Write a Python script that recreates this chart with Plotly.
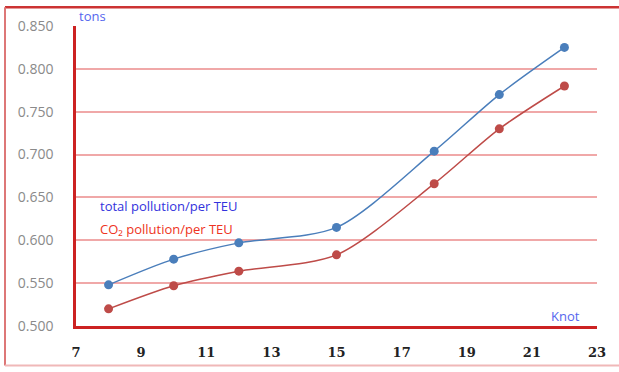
import plotly.graph_objects as go

knots = [8, 10, 12, 15, 18, 20, 22]
total_pollution = [0.548, 0.578, 0.597, 0.615, 0.704, 0.770, 0.825]
co2_pollution = [0.520, 0.547, 0.564, 0.583, 0.666, 0.730, 0.780]
y_ticks = [0.50, 0.55, 0.60, 0.65, 0.70, 0.75, 0.80, 0.85]
y_tick_labels = ["0.500", "0.550", "0.600", "0.650", "0.700", "0.750", "0.800", "0.850"]
x_ticks = [7, 9, 11, 13, 15, 17, 19, 21, 23]

W, H = 619, 372
L, R, T, B = 76, 22, 26, 42

fig = go.Figure()
fig.add_trace(go.Scatter(x=knots, y=total_pollution, mode="lines+markers",
                         line=dict(color="#4a7ebb", width=1.5, shape="spline", smoothing=0.8),
                         marker=dict(color="#4a7ebb", size=9), name="total"))
fig.add_trace(go.Scatter(x=knots, y=co2_pollution, mode="lines+markers",
                         line=dict(color="#be4b48", width=1.5, shape="spline", smoothing=0.8),
                         marker=dict(color="#be4b48", size=9), name="co2"))

def px_x(p):
    return (p - L) / (W - L - R)

def px_y(p):
    return (H - B - p) / (H - T - B)

# outer frame
fig.add_shape(type="line", xref="paper", yref="paper", x0=px_x(5), x1=px_x(619), y0=px_y(7), y1=px_y(7),
              line=dict(color="#cc3333", width=2.5))
fig.add_shape(type="line", xref="paper", yref="paper", x0=px_x(5), x1=px_x(5), y0=px_y(7), y1=px_y(370),
              line=dict(color="#dd7777", width=2))
fig.add_shape(type="line", xref="paper", yref="paper", x0=px_x(5), x1=px_x(619), y0=px_y(370), y1=px_y(370),
              line=dict(color="#f0b8b8", width=2))

fig.add_annotation(text="tons", xref="paper", yref="paper", x=px_x(77), y=px_y(16),
                   xanchor="left", yanchor="middle", showarrow=False,
                   font=dict(family="Open Sans", size=13, color="#5566ee"))
fig.add_annotation(text="Knot", xref="paper", yref="paper", x=px_x(582), y=px_y(320),
                   xanchor="right", yanchor="middle", showarrow=False,
                   font=dict(family="Open Sans", size=13, color="#5566ee"))
fig.add_annotation(text="total pollution/per TEU", xref="paper", yref="paper", x=px_x(98), y=px_y(208),
                   xanchor="left", yanchor="middle", showarrow=False,
                   font=dict(family="Open Sans", size=13, color="#3333dd"))
fig.add_annotation(text="CO₂ pollution/per TEU", xref="paper", yref="paper", x=px_x(98), y=px_y(232),
                   xanchor="left", yanchor="middle", showarrow=False,
                   font=dict(family="Open Sans", size=13, color="#ee3322"))

fig.update_layout(
    width=W, height=H,
    margin=dict(l=L, r=R, t=T, b=B),
    paper_bgcolor="white", plot_bgcolor="white",
    showlegend=False,
    xaxis=dict(range=[7, 23], tickvals=x_ticks, showgrid=False, zeroline=False,
               showline=True, linecolor="#cc2222", linewidth=2.5,
               ticks="", ticklabelstandoff=13,
               tickfont=dict(family="DejaVu Serif", size=13, color="#222222", weight="bold")),
    yaxis=dict(range=[0.5, 0.85], tickvals=y_ticks, ticktext=y_tick_labels,
               showgrid=True, gridcolor="#f0a8a8", gridwidth=1.5, zeroline=False,
               showline=True, linecolor="#cc2222", linewidth=2.5,
               ticks="", ticklabelstandoff=17,
               tickfont=dict(family="Open Sans", size=14, color="#8a8a8a")),
)

fig.write_html("out.html", config={"displayModeBar": False},
               post_script="document.body.style.margin='0';document.body.style.overflow='hidden';")
